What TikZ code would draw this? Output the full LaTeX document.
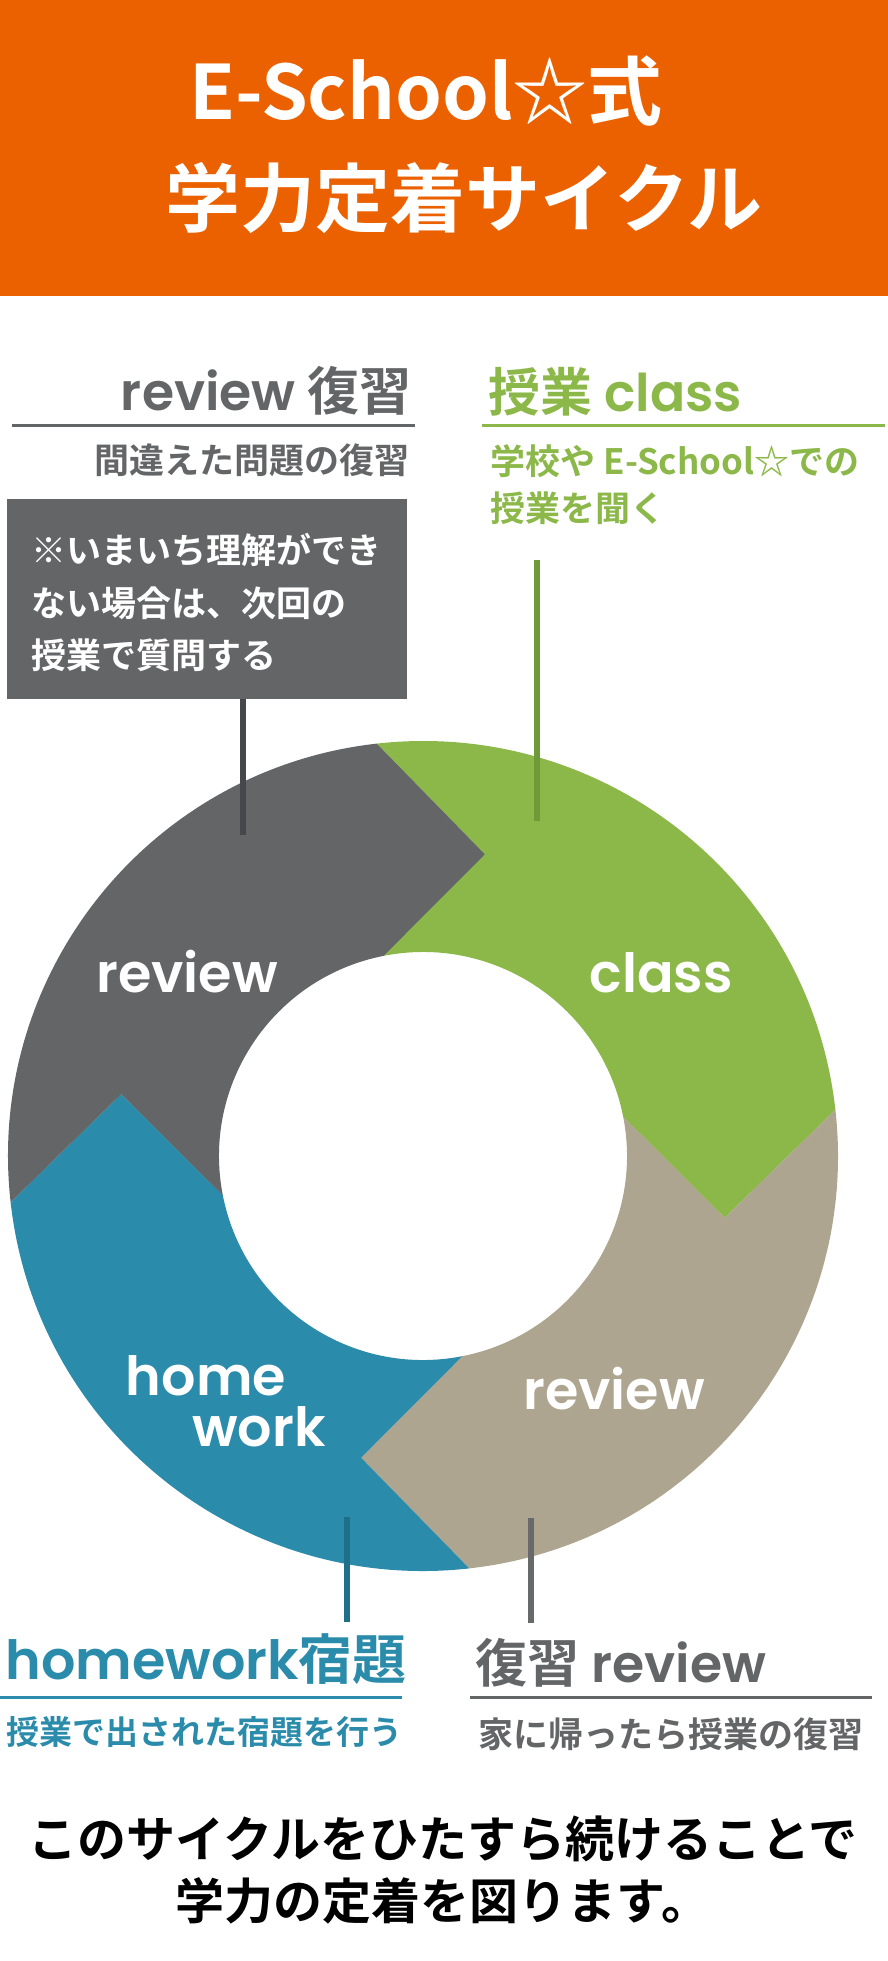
\documentclass[tikz,border=0pt]{standalone}
\usepackage{fontspec}
\setmainfont{Noto Sans CJK JP}[BoldFont={* Bold}]
\newfontfamily\geo{Poppins SemiBold}[BoldFont={Poppins SemiBold}]
\usetikzlibrary{positioning}

\definecolor{eorange}{HTML}{EB6100}
\definecolor{egray}{HTML}{646567}
\definecolor{edark}{HTML}{46474A}
\definecolor{egreen}{HTML}{8CB84A}
\definecolor{egreendark}{HTML}{6E9A3A}
\definecolor{ebeige}{HTML}{ADA58F}
\definecolor{eblue}{HTML}{2A8BAA}
\definecolor{ebluedark}{HTML}{1F6E8A}
\definecolor{emid}{HTML}{68696B}

\tikzset{
  title/.style={text=white, font=\fontsize{75}{80}\selectfont\bfseries},
  head/.style={font=\fontsize{52}{56}\selectfont\bfseries},
  sub/.style={font=\fontsize{35}{40}\selectfont\bfseries},
  ringlabel/.style={text=white, anchor=base, font=\fontsize{54}{58}\selectfont\geo},
  rule/.style={line width=3pt},
  conn/.style={line width=6pt},
}

\begin{document}
\begin{tikzpicture}[x=1pt, y=-1pt]
\useasboundingbox (0,0) rectangle (888,1961);

% header
\fill[eorange] (0,0) rectangle (888,296);
\node[title, anchor=base] (titleA) at (426,120) {E-School☆式};
\node[title, anchor=base] (titleB) at (464,227) {学力定着サイクル};

% ring
\begin{scope}[shift={(423,1156)}]
\foreach \a/\col in {96.4/egreen, 6.4/ebeige, -83.6/eblue, -173.6/egray} {
    \fill[\col] ({\a}:415pt) arc[start angle=\a, end angle=\a-90, radius=415pt]
        -- ({\a-108}:308pt) -- ({\a-85.3}:204pt)
        arc[start angle=\a-85.3, end angle=\a+4.7, radius=204pt]
        -- ({\a-18}:308pt) -- cycle;
}
\end{scope}
\node[ringlabel] (ringReview) at (187,992) {review};
\node[ringlabel] (ringClass) at (661,992) {class};
\node[ringlabel] (ringReviewB) at (614,1409) {review};
\node[ringlabel] (ringHome) at (206,1395) {home};
\node[ringlabel] (ringWork) at (259,1446) {work};

% review (top left)
\node[head, text=egray, anchor=base east] (reviewHead) at (415,410) {{\geo review} 復習};
\draw[rule, egray] (12,425) -- (415,425);
\node[sub, text=egray, anchor=base east] (reviewSub) at (413,473) {間違えた問題の復習};
\node[fill=egray, minimum width=400pt, minimum height=200pt, anchor=north west] (note) at (7,499) {};
\foreach \t/\y in {※いまいち理解ができ/563, ない場合は、次回の/616, 授業で質問する/668} {
    \node[sub, text=white, anchor=base west] at (28,\y) {\t};
}
\coordinate (noteEnd) at (243,835);
\draw[conn, edark] (note.south -| noteEnd) -- (noteEnd);

% class (top right)
\node[head, text=egreen, anchor=base west] (classHead) at (485,411) {授業 {\geo class}};
\draw[rule, egreen] (482,425) -- (885,425);
\node[sub, text=egreen, anchor=base west] (classSubA) at (487,474) {学校や E-School☆での};
\node[sub, text=egreen, anchor=base west] (classSubB) at (487,521) {授業を聞く};
\coordinate (classTop) at (537,560);
\coordinate (classEnd) at (537,821);
\draw[conn, egreendark] (classTop) -- (classEnd);

% homework (bottom left)
\coordinate (homeTop) at (347,1517);
\coordinate (homeEnd) at (347,1622);
\draw[conn, ebluedark] (homeTop) -- (homeEnd);
\node[head, text=eblue, anchor=base west, font=\fontsize{54}{58}\selectfont\bfseries] (homeHead) at (2,1679) {{\geo homework}宿題};
\draw[rule, eblue] (0,1697) -- (402,1697);
\node[sub, text=eblue, anchor=base west, font=\fontsize{33}{38}\selectfont\bfseries] (homeSub) at (3,1744) {授業で出された宿題を行う};

% review (bottom right)
\coordinate (revTop) at (531,1518);
\coordinate (revEnd) at (531,1623);
\draw[conn, emid] (revTop) -- (revEnd);
\node[head, text=egray, anchor=base west] (revHead) at (472,1682) {復習 {\geo review}};
\draw[rule, egray] (470,1697) -- (872,1697);
\node[sub, text=egray, anchor=base west] (revSub) at (475,1747) {家に帰ったら授業の復習};

% closing
\node[anchor=base, font=\fontsize{49}{54}\selectfont\bfseries] (closeA) at (443,1857) {このサイクルをひたすら続けることで};
\node[anchor=base, font=\fontsize{49}{54}\selectfont\bfseries] (closeB) at (443,1919) {学力の定着を図ります。};
\end{tikzpicture}
\end{document}
